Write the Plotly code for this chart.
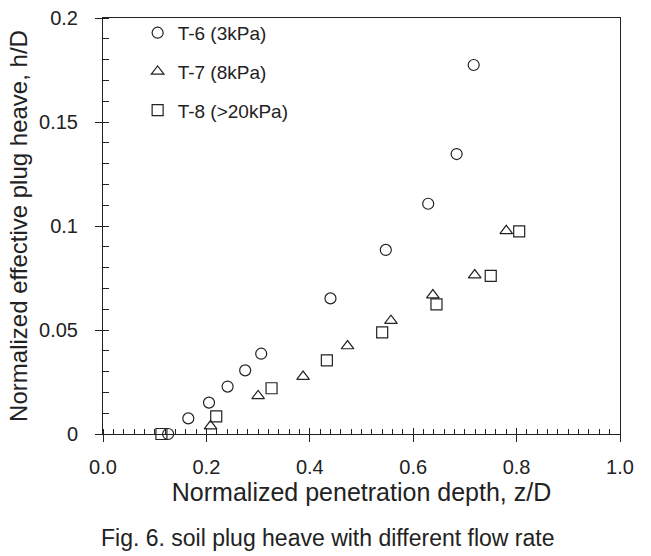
import plotly.graph_objects as go

# T-6 (3kPa)
t6_x = [0.126, 0.165, 0.205, 0.241, 0.275, 0.306, 0.440, 0.547, 0.629, 0.684, 0.717]
t6_y = [0.0, 0.0075, 0.0151, 0.0228, 0.0306, 0.0386, 0.0652, 0.0885, 0.1107, 0.1346, 0.1774]
# T-7 (8kPa)
t7_x = [0.208, 0.300, 0.387, 0.473, 0.557, 0.638, 0.719, 0.780]
t7_y = [0.0038, 0.0183, 0.0276, 0.0423, 0.0545, 0.0668, 0.0764, 0.0977]
# T-8 (>20kPa)
t8_x = [0.113, 0.219, 0.326, 0.433, 0.540, 0.645, 0.750, 0.805]
t8_y = [0.0, 0.0085, 0.0220, 0.0354, 0.0489, 0.0623, 0.0760, 0.0974]

series_names = ["T-6 (3kPa)", "T-7 (8kPa)", "T-8 (>20kPa)"]
symbols = ["circle-open", "triangle-up-open", "square-open"]

FONT = "Liberation Sans, Arial, sans-serif"
INK = "#222222"

fig = go.Figure()
for i, (xs, ys) in enumerate([(t6_x, t6_y), (t7_x, t7_y), (t8_x, t8_y)]):
    fig.add_trace(go.Scatter(
        x=xs, y=ys, mode="markers", name=series_names[i],
        legendgroup=series_names[i],
        marker=dict(symbol=symbols[i], size=11, color=INK, line=dict(width=1.2, color=INK)),
        cliponaxis=False,
    ))

# helper trace for the overlay axes (inner half of major ticks)
fig.add_trace(go.Scatter(x=[None], y=[None], xaxis="x2", yaxis="y2",
                         showlegend=False, hoverinfo="skip"))

fig.update_layout(
    width=651, height=556,
    margin=dict(l=103, r=31, t=18, b=122, autoexpand=False),
    paper_bgcolor="white", plot_bgcolor="white",
    font=dict(family=FONT, size=20, color=INK),
    showlegend=True,
    legend=dict(x=0.067, y=1.01, xanchor="left", yanchor="top",
                bgcolor="rgba(0,0,0,0)", font=dict(size=19, family=FONT, color=INK),
                tracegroupgap=11, itemwidth=30),
    xaxis=dict(range=[0, 1], dtick=0.2, tickformat=".1f", automargin=False,
               showline=True, linecolor=INK, linewidth=1, mirror=True,
               ticks="outside", ticklen=7, tickcolor=INK, tickwidth=1,
               ticklabelstandoff=8,
               minor=dict(dtick=0.02, ticks="inside", ticklen=5, tickcolor=INK, tickwidth=1),
               showgrid=False, zeroline=False,
               title=dict(text="Normalized penetration depth, z/D", font=dict(size=25), standoff=4),
               tickfont=dict(size=20)),
    yaxis=dict(range=[0, 0.2], dtick=0.05, automargin=False,
               showline=True, linecolor=INK, linewidth=1, mirror=True,
               ticks="outside", ticklen=7, tickcolor=INK, tickwidth=1,
               ticklabelstandoff=13,
               minor=dict(dtick=0.01, ticks="inside", ticklen=6, tickcolor=INK, tickwidth=1),
               showgrid=False, zeroline=False,
               title=dict(text="Normalized effective plug heave, h/D", font=dict(size=24), standoff=4),
               tickfont=dict(size=20)),
    xaxis2=dict(range=[0, 1], dtick=0.2, overlaying="x", anchor="y2", side="bottom",
                ticks="inside", ticklen=6, tickcolor=INK, showticklabels=False,
                showline=False, showgrid=False, zeroline=False),
    yaxis2=dict(range=[0, 0.2], dtick=0.05, overlaying="y", anchor="x2", side="left",
                ticks="inside", ticklen=6, tickcolor=INK, showticklabels=False,
                showline=False, showgrid=False, zeroline=False),
    annotations=[dict(text="Fig. 6. soil plug heave with different flow rate",
                      xref="paper", yref="paper", x=0.434, y=-0.25,
                      xanchor="center", yanchor="middle", showarrow=False,
                      font=dict(size=23, family=FONT, color=INK))],
)

fig.write_html("out.html", config={"displayModeBar": False},
               post_script="document.body.style.margin='0';")
